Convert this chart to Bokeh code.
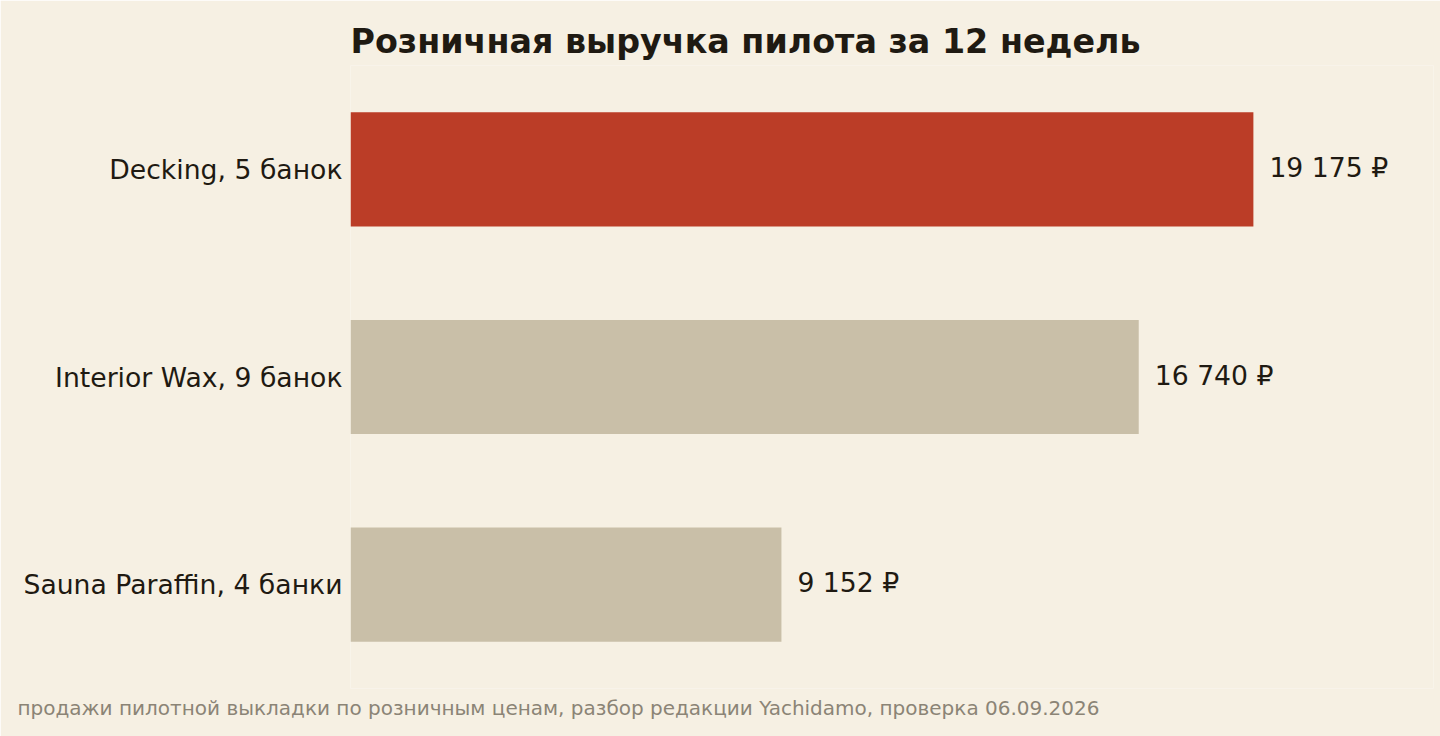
from bokeh.plotting import figure
from bokeh.models import FactorRange, Range1d, Title, ColumnDataSource
from bokeh.core.properties import value
from bokeh.embed import file_html
from bokeh.resources import INLINE

categories = ["Decking, 5 банок", "Interior Wax, 9 банок", "Sauna Paraffin, 4 банки"]
revenue = [19175, 16740, 9152]
value_labels = ["19 175 ₽", "16 740 ₽", "9 152 ₽"]
bar_colors = ["#BB3D27", "#C9BFA8", "#C9BFA8"]

title_text = "Розничная выручка пилота за 12 недель"
footer_text = "продажи пилотной выкладки по розничным ценам, разбор редакции Yachidamo, проверка 06.09.2026"

BG = "#F6F0E3"
TEXT = "#1F1A12"
FONT = "DejaVu Sans"

src = ColumnDataSource(dict(cat=categories, rev=revenue, lab=value_labels, col=bar_colors))

p = figure(
    width=1440, height=736,
    y_range=FactorRange(factors=list(reversed(categories))),
    x_range=Range1d(0, 23000),
    output_backend="svg", toolbar_location=None,
    min_border_left=350, min_border_right=7, min_border_top=65, min_border_bottom=48,
    background_fill_color=BG, border_fill_color=BG,
)
p.outline_line_color = None
p.title.text = title_text
p.title.align = "left"
p.title.text_font = FONT
p.title.text_font_size = "25pt"
p.title.text_font_style = "bold"
p.title.text_color = TEXT

p.hbar(y="cat", right="rev", left=0, height=0.55, color="col", line_color=None, source=src)
p.text(x="rev", y="cat", text="lab", x_offset=16, y_offset=-2, text_baseline="middle", text_align="left",
       text_font=value(FONT), text_font_size="20pt", text_color=TEXT, source=src)

p.xaxis.visible = False
p.xgrid.grid_line_color = None
p.ygrid.grid_line_color = None
ya = p.yaxis[0]
ya.axis_line_color = None
ya.major_tick_line_color = None
ya.minor_tick_line_color = None
ya.major_tick_out = 0
ya.major_tick_in = 0
ya.major_label_standoff = 8
ya.major_label_text_font = FONT
ya.major_label_text_font_size = "20pt"
ya.major_label_text_color = TEXT

footer = Title(text=footer_text, align="left", offset=-333, text_font=FONT,
               text_font_size="15pt", text_font_style="normal", text_color="#8B8476")
p.add_layout(footer, "below")

open("out.html", "w").write(file_html(p, INLINE))
